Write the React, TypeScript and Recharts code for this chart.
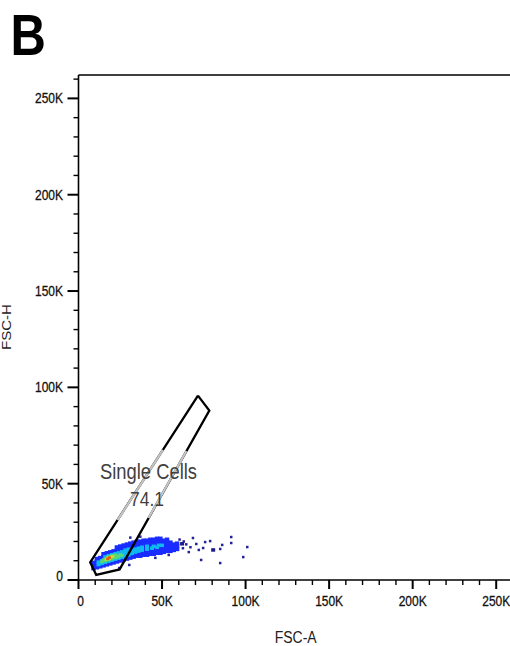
import React from 'react';
import { ScatterChart, Scatter, XAxis, YAxis, ReferenceLine, ReferenceDot } from 'recharts';

// Axis values are in thousands (K)
const majorTicks = [0, 50, 100, 150, 200, 250];
const majorLabels = ['0', '50K', '100K', '150K', '200K', '250K'];
const minorTicks = [10, 20, 30, 40, 60, 70, 80, 90, 110, 120, 130, 140, 160, 170, 180, 190, 210, 220, 230, 240, 260];

const xTitle = 'FSC-A';
const yTitle = 'FSC-H';
const panelLetter = 'B';
const gateName = 'Single Cells';
const gatePercent = '74.1';

// Gate polygon (FSC-A K, FSC-H K), closed
const gateOutline: [number, number][] = [
  [71.5, 95.7], [78.3, 87.9], [24.6, 5.5], [10.6, 2.6], [7.0, 9.2], [71.5, 95.7],
];
const gateFadedLeft: [number, number][] = [[50.5, 67.5], [23.4, 31.1]];
const gateFadedRight: [number, number][] = [[64.6, 66.95], [41.9, 32.2]];

const denseBlue: [number, number][] = [
  [9, 6], [9, 7.5], [9, 9],
  [11, 6.5], [11, 8], [11, 9.5], [11, 11],
  [13, 7], [13, 8.5], [13, 10], [13, 11.5],
  [15, 7.5], [15, 9], [15, 10.5], [15, 12], [15, 13.5],
  [17, 8], [17, 9.5], [17, 11], [17, 12.5], [17, 14],
  [19, 8.5], [19, 10], [19, 11.5], [19, 13], [19, 14.5],
  [21, 9], [21, 10.5], [21, 12], [21, 13.5], [21, 15],
  [23, 9.5], [23, 11], [23, 12.5], [23, 14], [23, 15.5], [23, 17],
  [25, 10], [25, 11.5], [25, 13], [25, 14.5], [25, 16], [25, 17.5],
  [27, 10.5], [27, 12], [27, 13.5], [27, 15], [27, 16.5], [27, 18],
  [29, 11], [29, 12.5], [29, 14], [29, 15.5], [29, 17], [29, 18.5],
  [31, 11.5], [31, 13], [31, 14.5], [31, 16], [31, 17.5], [31, 19],
  [33, 12], [33, 13.5], [33, 15], [33, 16.5], [33, 18], [33, 19.5],
  [35, 12.5], [35, 14], [35, 15.5], [35, 17], [35, 18.5], [35, 20],
  [37, 12.5], [37, 14], [37, 15.5], [37, 17], [37, 18.5], [37, 20],
  [39, 13], [39, 14.5], [39, 16], [39, 17.5], [39, 19], [39, 20.5],
  [41, 13], [41, 14.5], [41, 16], [41, 17.5], [41, 19], [41, 20.5],
  [43, 13.5], [43, 15], [43, 16.5], [43, 18], [43, 19.5], [43, 21],
  [45, 13.5], [45, 15], [45, 16.5], [45, 18], [45, 19.5], [45, 21],
  [47, 14], [47, 15.5], [47, 17], [47, 18.5], [47, 20], [47, 21.5],
  [49, 14], [49, 15.5], [49, 17], [49, 18.5], [49, 20], [49, 21.5],
  [51, 14.5], [51, 16], [51, 17.5], [51, 19], [51, 20.5],
  [53, 15], [53, 16.5], [53, 18], [53, 19.5], [53, 21],
  [55, 15], [55, 16.5], [55, 18], [55, 19.5],
  [57, 15.5], [57, 17], [57, 18.5],
  [59, 16], [59, 17.5], [59, 19],
];

const sparseBlue: [number, number][] = [
  [60.5, 21], [62.5, 16.5], [64.5, 18.5], [66, 14.5], [68.5, 21.8], [70.5, 18.7], [72, 15.6],
  [73.4, 10.4], [74.6, 16.6], [75.8, 19.7], [78.8, 20.2], [84.8, 16.1], [86, 18.2],
  [91.4, 22.3], [91.4, 19.2], [101, 17.1], [98.6, 11.9], [84.8, 8.8], [24.4, 6.2], [30.4, 7.8],
  [31, 22], [37, 22.5], [54, 13], [46, 11.5], [63, 20], [67, 17],
];
const sparseBlueLarge: [number, number][] = [[80.6, 15.6], [62, 18.8]];

const cyan: [number, number][] = [
  [12, 8], [12, 9.3], [14, 8.6], [14, 10], [16, 9.2], [16, 10.6], [16, 12], [18, 9.8], [18, 11.2], [18, 12.6],
  [20, 10.3], [20, 11.7], [20, 13.1], [22, 10.8], [22, 12.2], [22, 13.6], [24, 11.3], [24, 12.7], [24, 14.1],
  [26, 11.8], [26, 13.2], [26, 14.6], [28, 12.5], [28, 14], [28, 15.5], [30, 13], [30, 14.5], [30, 16],
  [32, 13.8], [32, 15.3], [34, 14.5], [34, 16], [36, 15], [36, 16.5], [38, 15.5], [38, 17], [41, 16], [41, 17.5],
  [44, 16.5], [45, 17.5], [47, 17], [48, 18], [50, 18],
];

const green: [number, number][] = [
  [14, 9.5], [15, 10.5], [16, 10], [17, 11], [18, 10.5], [18, 12], [19, 11.5], [20, 11], [20, 12.5],
  [21, 12], [22, 11.5], [22, 13], [23, 12.5], [24, 12], [25, 13], [26, 12.8],
];

const yellow: [number, number][] = [[16.5, 10.8], [17.5, 11.5], [18.5, 11], [19.5, 12], [20.5, 12.3]];
const red: [number, number][] = [[17.5, 11], [18.5, 11.6]];

const toPts = (a: [number, number][]) => a.map(([x, y]) => ({ x, y }));

const FONT = "'Liberation Sans', Arial, Helvetica, sans-serif";
const STRETCH = 1.154;

const allTicks = [...majorTicks, ...minorTicks].sort((a, b) => a - b);

const rectShape = (w: number, h: number, fill: string) => (p: any) => (
  <rect x={p.cx - w / 2} y={p.cy - h / 2} width={w} height={h} fill={fill} />
);
const noShape = () => <g />;

const XTick = (props: any) => {
  const { x, y, payload } = props;
  const v = payload.value;
  const idx = majorTicks.indexOf(v);
  const major = idx >= 0;
  return (
    <g>
      <line x1={x} y1={y} x2={x} y2={y + (major ? 9 : 5)} stroke="#000" strokeWidth={major ? 2 : 1.4} />
      {major && (
        <text
          transform={`translate(${x + (v === 0 ? 2 : 0)},${y + 25.5}) scale(1,${STRETCH})`}
          textAnchor="middle"
          fontSize={12}
          fill="#111"
          stroke="#111"
          strokeWidth={0.25}
          fontFamily={FONT}
        >
          {majorLabels[idx]}
        </text>
      )}
    </g>
  );
};

const YTick = (props: any) => {
  const { x, y, payload } = props;
  const v = payload.value;
  const idx = majorTicks.indexOf(v);
  const major = idx >= 0;
  return (
    <g>
      <line x1={x - (major ? 11 : 5)} y1={y} x2={x} y2={y} stroke="#000" strokeWidth={major ? 2 : 1.4} />
      {major && (
        <text
          transform={`translate(${x - 15.5},${y + 5 - (v === 0 ? 4 : 0)}) scale(1,${STRETCH})`}
          textAnchor="end"
          fontSize={12}
          fill="#111"
          stroke="#111"
          strokeWidth={0.25}
          fontFamily={FONT}
        >
          {majorLabels[idx]}
        </text>
      )}
    </g>
  );
};

const GateLabel = (text: string, size: number, dy: number) => (p: any) => (
  <text
    transform={`translate(${p.cx},${p.cy + dy}) scale(1,${STRETCH})`}
    textAnchor="middle"
    fontSize={size}
    fill="#3f3f3f"
    fontFamily={FONT}
  >
    {text}
  </text>
);

export default function App() {
  return (
    <div style={{ position: 'fixed', left: 0, top: 0, width: 510, height: 646, overflow: 'hidden', background: '#fff' }}>
      <ScatterChart width={517} height={646} margin={{ top: 75, right: 0.5, bottom: 0, left: 0 }}>
        <XAxis
          type="number"
          dataKey="x"
          domain={[0, 262.144]}
          allowDataOverflow
          ticks={allTicks}
          interval={0}
          tickSize={0}
          tickMargin={0}
          tickLine={false}
          tick={<XTick />}
          height={66}
          axisLine={{ stroke: '#000', strokeWidth: 1.6 }}
        />
        <YAxis
          type="number"
          dataKey="y"
          domain={[0, 262.144]}
          allowDataOverflow
          ticks={allTicks}
          interval={0}
          tickSize={0}
          tickMargin={0}
          tickLine={false}
          tick={<YTick />}
          width={78.5}
          axisLine={{ stroke: '#000', strokeWidth: 1.6 }}
        />
        <ReferenceLine y={262.144} stroke="#000" strokeWidth={1.6} />
        <Scatter data={toPts(denseBlue)} shape={rectShape(4.5, 4, '#1a2cff')} isAnimationActive={false} />
        <Scatter data={toPts(sparseBlue)} shape={rectShape(2.5, 2.5, '#23239a')} isAnimationActive={false} />
        <Scatter data={toPts(sparseBlueLarge)} shape={rectShape(4, 3.5, '#1a1a8c')} isAnimationActive={false} />
        <Scatter data={toPts(cyan)} shape={rectShape(4, 3.5, '#10b8f0')} isAnimationActive={false} />
        <Scatter data={toPts(green)} shape={rectShape(3.5, 3, '#58d878')} isAnimationActive={false} />
        <Scatter data={toPts(yellow)} shape={rectShape(3, 3, '#c8dc28')} isAnimationActive={false} />
        <Scatter data={toPts(red)} shape={rectShape(3, 2.5, '#e05a18')} isAnimationActive={false} />
        <Scatter data={toPts(gateOutline)} line={{ stroke: '#000', strokeWidth: 2.3 }} lineType="joint" shape={noShape} isAnimationActive={false} />
        <Scatter data={toPts(gateFadedLeft)} line={{ stroke: '#c4c4c4', strokeWidth: 2.3 }} lineType="joint" shape={noShape} isAnimationActive={false} />
        <Scatter data={toPts(gateFadedRight)} line={{ stroke: '#c4c4c4', strokeWidth: 2.3 }} lineType="joint" shape={noShape} isAnimationActive={false} />
        <ReferenceDot x={41.9} y={56.2} r={0} shape={GateLabel(gateName, 18.4, 7.6)} />
        <ReferenceDot x={41.0} y={42.0} r={0} shape={GateLabel(gatePercent, 17.5, 6.5)} />
      </ScatterChart>
      <svg width={510} height={646} style={{ position: 'absolute', left: 0, top: 0, pointerEvents: 'none' }}>
        <text transform="translate(10.4,55) scale(0.86,1)" fontSize={57} fontWeight="bold" fill="#000" fontFamily={FONT}>
          {panelLetter}
        </text>
        <text transform={`translate(11,327) rotate(-90) scale(${STRETCH},1)`} textAnchor="middle" fontSize={13} fill="#222" fontFamily={FONT}>
          {yTitle}
        </text>
        <text transform={`translate(295.7,643) scale(1,${STRETCH})`} textAnchor="middle" fontSize={14} fill="#222" fontFamily={FONT}>
          {xTitle}
        </text>
      </svg>
    </div>
  );
}
